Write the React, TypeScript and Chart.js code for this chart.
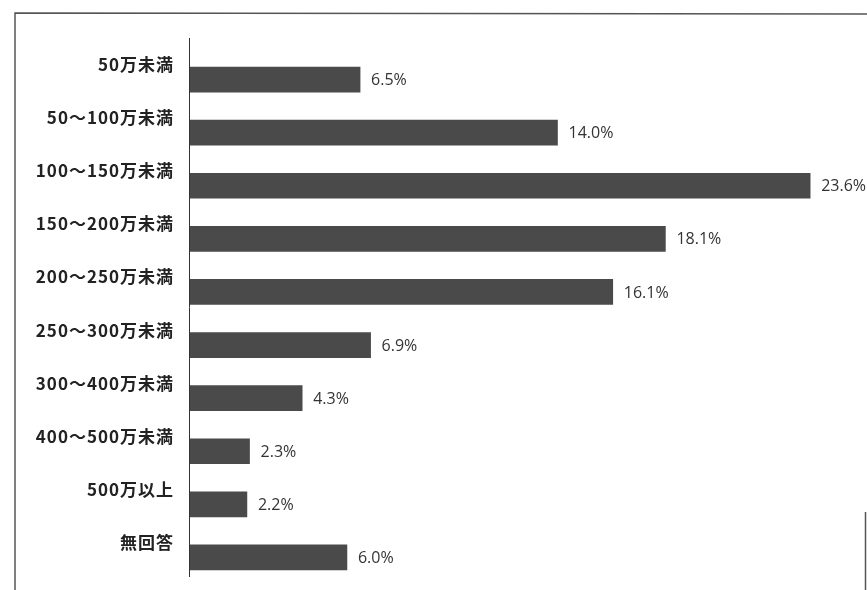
import React, { useEffect, useRef } from "react";
import { Chart, registerables } from "chart.js";

Chart.register(...registerables);

const categories = [
  "50万未満",
  "50～100万未満",
  "100～150万未満",
  "150～200万未満",
  "200～250万未満",
  "250～300万未満",
  "300～400万未満",
  "400～500万未満",
  "500万以上",
  "無回答",
];
const values = [6.5, 14.0, 23.6, 18.1, 16.1, 6.9, 4.3, 2.3, 2.2, 6.0];
const valueLabels = ["6.5%", "14.0%", "23.6%", "18.1%", "16.1%", "6.9%", "4.3%", "2.3%", "2.2%", "6.0%"];

const decorPlugin = {
  id: "decor",
  afterDatasetsDraw(chart: any) {
    const ctx = chart.ctx;
    const xs = chart.scales.x;
    const ys = chart.scales.y;
    ctx.save();
    // frame
    ctx.strokeStyle = "#555";
    ctx.lineWidth = 1.5;
    ctx.beginPath();
    ctx.moveTo(15, 590);
    ctx.lineTo(15, 13);
    ctx.lineTo(867, 14);
    ctx.stroke();
    ctx.beginPath();
    ctx.moveTo(865.5, 512);
    ctx.lineTo(865.5, 590);
    ctx.stroke();
    // axis line
    ctx.strokeStyle = "#333";
    ctx.lineWidth = 1;
    ctx.beginPath();
    ctx.moveTo(xs.left + 0.5, 38);
    ctx.lineTo(xs.left + 0.5, 577);
    ctx.stroke();
    // category labels
    ctx.fillStyle = "#222";
    ctx.font = "bold 17px 'Noto Sans CJK JP'";
    (ctx as any).letterSpacing = "1px";
    ctx.textAlign = "right";
    ctx.textBaseline = "middle";
    categories.forEach((c, i) => {
      const y = ys.getPixelForValue(i);
      ctx.fillText(c, xs.left - 15, y - 15);
    });
    (ctx as any).letterSpacing = "0px";
    // value labels
    ctx.fillStyle = "#333";
    ctx.font = "16px 'Open Sans'";
    ctx.textAlign = "left";
    values.forEach((v, i) => {
      const y = ys.getPixelForValue(i);
      const x = xs.getPixelForValue(v);
      ctx.fillText(valueLabels[i], x + 11, y + 1);
    });
    ctx.restore();
  },
};

export default function App() {
  const ref = useRef<HTMLCanvasElement>(null);
  useEffect(() => {
    if (!ref.current) return;
    const chart = new Chart(ref.current, {
      type: "bar",
      data: {
        labels: categories,
        datasets: [
          {
            data: values,
            backgroundColor: "#4a4a4a",
            borderWidth: 0,
            barThickness: 25,
          },
        ],
      },
      options: {
        indexAxis: "y",
        animation: false,
        responsive: false,
        maintainAspectRatio: false,
        layout: { padding: { left: 189, right: 20, top: 53, bottom: 6 } },
        plugins: { legend: { display: false }, tooltip: { enabled: false } },
        scales: {
          x: { display: false, min: 0, max: 25 },
          y: { display: false },
        },
      },
      plugins: [decorPlugin],
    });
    return () => chart.destroy();
  }, []);
  return (
    <div style={{ position: "fixed", left: 0, top: 0, width: 867, height: 590, background: "#fff" }}>
      <canvas ref={ref} width={867} height={590} style={{ width: 867, height: 590 }} />
    </div>
  );
}
